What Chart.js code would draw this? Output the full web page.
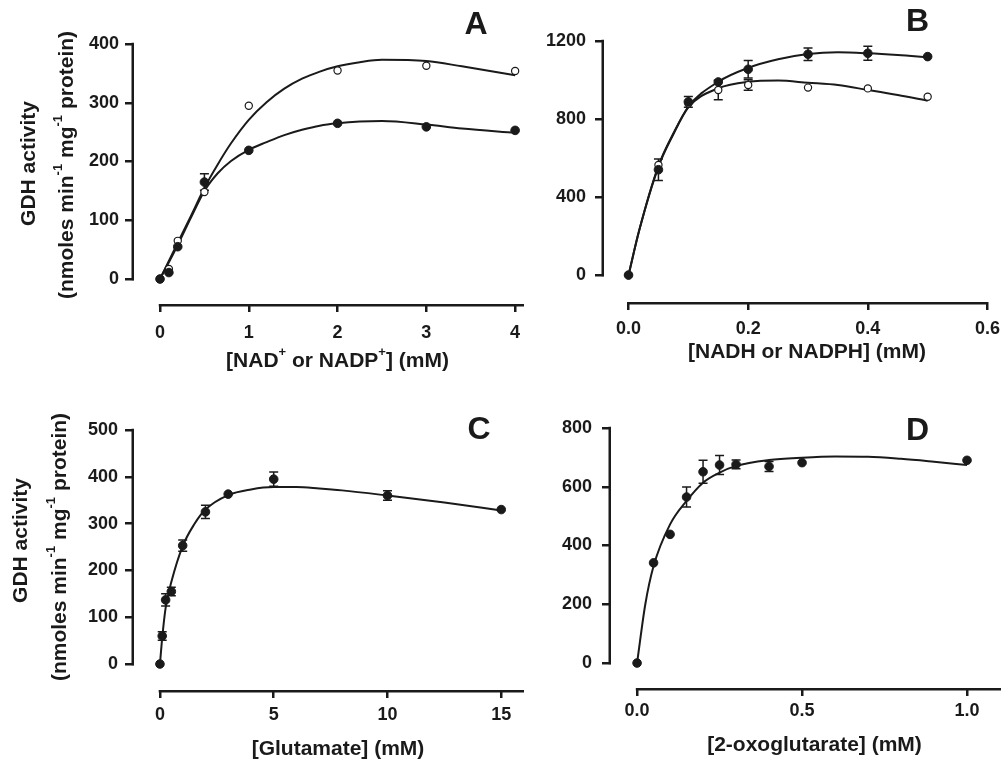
<!DOCTYPE html>
<html>
<head>
<meta charset="utf-8">
<script src="https://cdn.jsdelivr.net/npm/chart.js@4/dist/chart.umd.min.js"></script>
<style>
  body { margin: 0; background: #fff; }
  #wrap { position: relative; width: 1008px; height: 762px; }
  #wrap canvas { position: absolute; left: 0; top: 0; }
</style>
</head>
<body>
<div id="wrap">
  <canvas id="panelA" width="1008" height="762"></canvas>
  <canvas id="panelB" width="1008" height="762"></canvas>
  <canvas id="panelC" width="1008" height="762"></canvas>
  <canvas id="panelD" width="1008" height="762"></canvas>
</div>
<script>
// A: oxidised cofactor (filled / open symbols)
const aConc = [0, 0.1, 0.2, 0.5, 1, 2, 3, 4];
const aClosed = [0, 11, 55, 165, 219, 265, 259, 253];
const aClosedErr = [0, 0, 0, 14, 0, 0, 0, 0];
const aOpen = [0, 17, 65, 148, 295, 355, 363, 354];
const aOpenErr = [0, 0, 0, 0, 0, 0, 0, 0];
const aFitX = [0, 0.2, 0.35, 0.5, 0.65, 0.8, 1, 1.2, 1.4, 1.6, 1.8, 2, 2.25, 2.5, 3, 3.4, 4];
const aClosedFit = [0, 58, 105, 150, 180, 201, 220, 233, 245, 254, 261, 265, 268, 269, 263, 256, 249];
const aOpenFit = [0, 62, 108, 155, 195, 231, 271, 301, 324, 341, 353, 362, 369, 373, 371, 362, 347];
const aXTicks = [0, 1, 2, 3, 4];
const aYTicks = [0, 100, 200, 300, 400];

// B: reduced cofactor
const bConc = [0, 0.05, 0.1, 0.15, 0.2, 0.3, 0.4, 0.5];
const bClosed = [0, 540, 888, 990, 1055, 1132, 1137, 1120];
const bClosedErr = [0, 55, 28, 0, 45, 32, 36, 0];
const bOpen = [0, 564, 880, 949, 974, 961, 957, 914];
const bOpenErr = [0, 0, 0, 50, 27, 0, 0, 0];
const bFitX = [0, 0.018, 0.05, 0.075, 0.1, 0.15, 0.2, 0.25, 0.3, 0.35, 0.4, 0.45, 0.5];
const bClosedFit = [0, 231, 560, 727, 863, 991, 1062, 1106, 1133, 1142, 1137, 1128, 1116];
const bOpenFit = [0, 231, 555, 722, 860, 958, 991, 997, 986, 974, 949, 923, 894];
const bXTicks = [0, 0.2, 0.4, 0.6];
const bYTicks = [0, 400, 800, 1200];

// C: glutamate
const cConc = [0, 0.1, 0.25, 0.5, 1, 2, 3, 5, 10, 15];
const cRate = [0, 60, 137, 155, 253, 325, 363, 395, 360, 330];
const cErr = [0, 9, 13, 9, 12, 14, 0, 15, 10, 0];
const cFitX = [0, 0.1, 0.25, 0.5, 1, 1.5, 2, 3, 4, 5, 6, 7, 8, 10, 12.5, 15];
const cFit = [0, 56, 120, 175, 252, 298, 330, 361, 373, 378, 378, 375, 371, 360, 345, 328];
const cXTicks = [0, 5, 10, 15];
const cYTicks = [0, 100, 200, 300, 400, 500];

// D: 2-oxoglutarate
const dConc = [0, 0.05, 0.1, 0.15, 0.2, 0.25, 0.3, 0.4, 0.5, 1.0];
const dRate = [0, 341, 438, 565, 651, 674, 676, 669, 682, 690];
const dErr = [0, 0, 0, 34, 39, 32, 15, 17, 0, 0];
const dFitX = [0, 0.025, 0.05, 0.1, 0.15, 0.2, 0.25, 0.3, 0.4, 0.5, 0.6, 0.7, 0.8, 0.9, 1.0];
const dFit = [0, 200, 330, 472, 552, 614, 648, 671, 691, 699, 703, 702, 695, 685, 674];
const dXTicks = [0, 0.5, 1.0];
const dYTicks = [0, 200, 400, 600, 800];

// axis titles as [text, isSuperscript] runs
const yTitleTop = [['GDH activity', 0]];
const yTitleBottom = [['(nmoles min', 0], ['-1', 1], [' mg', 0], ['-1', 1], [' protein)', 0]];
const aXTitle = [['[NAD', 0], ['+', 1], [' or NADP', 0], ['+', 1], ['] (mM)', 0]];
const bXTitle = [['[NADH or NADPH] (mM)', 0]];
const cXTitle = [['[Glutamate] (mM)', 0]];
const dXTitle = [['[2-oxoglutarate] (mM)', 0]];

const ink = '#1a1a1a';
const family = "'Liberation Sans', Arial, Helvetica, sans-serif";
Chart.defaults.font.family = family;
Chart.defaults.font.weight = 'bold';
Chart.defaults.color = ink;

function drawRuns(ctx, runs, size) {
  const fonts = runs.map(r => 'bold ' + (r[1] ? Math.round(size * 0.64) : size) + 'px ' + family);
  const widths = runs.map((r, i) => { ctx.font = fonts[i]; return ctx.measureText(r[0]).width; });
  let cx = -widths.reduce((a, b) => a + b, 0) / 2;
  runs.forEach((r, i) => {
    ctx.font = fonts[i];
    ctx.fillText(r[0], cx, r[1] ? -size * 0.4 : 0);
    cx += widths[i];
  });
}

// detached axis lines, error bars, axis titles and the panel letter
const prismAxes = {
  id: 'prismAxes',
  beforeDatasetsDraw(chart) {
    const { ctx, chartArea } = chart;
    const x = chart.scales.x, y = chart.scales.y;
    ctx.save();
    ctx.strokeStyle = ink;
    ctx.lineWidth = 2.5;
    ctx.beginPath();
    const yTop = y.getPixelForValue(y.ticks[y.ticks.length - 1].value);
    const yZero = y.getPixelForValue(y.ticks[0].value);
    ctx.moveTo(chartArea.left - 1.25, yTop - 1.25);
    ctx.lineTo(chartArea.left - 1.25, yZero + 1.25);
    ctx.moveTo(x.getPixelForValue(x.ticks[0].value) - 1.25, chartArea.bottom + 1.25);
    ctx.lineTo(chartArea.right, chartArea.bottom + 1.25);
    ctx.stroke();

    ctx.lineWidth = 1.5;
    chart.data.datasets.forEach(ds => {
      if (!ds.errors) return;
      ds.data.forEach((p, i) => {
        const e = ds.errors[i];
        if (!e) return;
        const px = x.getPixelForValue(p.x);
        const hi = y.getPixelForValue(p.y + e);
        const lo = y.getPixelForValue(p.y - e);
        ctx.beginPath();
        ctx.moveTo(px, hi);
        ctx.lineTo(px, lo);
        ctx.moveTo(px - 4.5, hi);
        ctx.lineTo(px + 4.5, hi);
        ctx.moveTo(px - 4.5, lo);
        ctx.lineTo(px + 4.5, lo);
        ctx.stroke();
      });
    });
    ctx.restore();
  },
  afterDraw(chart, args, opts) {
    const ctx = chart.ctx;
    ctx.save();
    ctx.fillStyle = ink;
    ctx.textAlign = 'left';
    ctx.textBaseline = 'middle';

    ctx.save();
    ctx.translate(opts.xTitleAt[0], opts.xTitleAt[1]);
    drawRuns(ctx, opts.xTitle, 21);
    ctx.restore();

    if (opts.yTitleAt) {
      [yTitleTop, yTitleBottom].forEach((runs, i) => {
        ctx.save();
        ctx.translate(opts.yTitleAt[i][0], opts.yTitleAt[i][1]);
        ctx.rotate(-Math.PI / 2);
        drawRuns(ctx, runs, 21);
        ctx.restore();
      });
    }

    ctx.font = 'bold 32px ' + family;
    ctx.textAlign = 'center';
    ctx.fillText(opts.letter, opts.letterAt[0], opts.letterAt[1]);
    ctx.restore();
  }
};

function dots(xs, ys, errs, filled) {
  return {
    data: xs.map((x, i) => ({ x: x, y: ys[i] })),
    errors: errs,
    pointRadius: filled ? 4.3 : 3.6,
    pointBackgroundColor: filled ? ink : '#fff',
    pointBorderColor: ink,
    pointBorderWidth: filled ? 1 : 1.2,
    pointHoverRadius: 0
  };
}

function fit(xs, ys) {
  return {
    data: xs.map((x, i) => ({ x: x, y: ys[i] })),
    showLine: true,
    pointRadius: 0,
    pointHoverRadius: 0,
    borderColor: ink,
    borderWidth: 2,
    cubicInterpolationMode: 'monotone'
  };
}

function makePanel(id, p) {
  return new Chart(document.getElementById(id), {
    type: 'scatter',
    data: { datasets: p.datasets },
    options: {
      responsive: false,
      animation: false,
      events: [],
      layout: { padding: p.padding },
      plugins: {
        legend: { display: false },
        tooltip: { enabled: false },
        prismAxes: {
          letter: p.letter, letterAt: p.letterAt,
          xTitle: p.xTitle, xTitleAt: p.xTitleAt, yTitleAt: p.yTitleAt
        }
      },
      scales: {
        x: {
          type: 'linear',
          min: p.xRange[0],
          max: p.xRange[1],
          afterFit: s => { s.height = p.xHeight; },
          afterBuildTicks: s => { s.ticks = p.xTicks.map(v => ({ value: v })); },
          border: { display: false },
          grid: { drawOnChartArea: false, color: ink, lineWidth: 2.5, tickLength: 8 },
          ticks: { font: { size: 18 }, padding: p.xTickPad, autoSkip: false, maxRotation: 0, callback: p.xFormat }
        },
        y: {
          type: 'linear',
          min: p.yRange[0],
          max: p.yRange[1],
          afterFit: s => { s.width = p.yWidth; },
          afterBuildTicks: s => { s.ticks = p.yTicks.map(v => ({ value: v })); },
          border: { display: false },
          grid: { drawOnChartArea: false, color: ink, lineWidth: 2.5, tickLength: 9 },
          ticks: { font: { size: 18 }, padding: p.yTickPad, autoSkip: false, callback: v => String(v) }
        }
      }
    },
    plugins: [prismAxes]
  });
}

const oneDecimal = v => v.toFixed(1);
const plain = v => String(v);

makePanel('panelA', {
  datasets: [
    dots(aConc, aClosed, aClosedErr, true),
    dots(aConc, aOpen, aOpenErr, false),
    fit(aFitX, aClosedFit),
    fit(aFitX, aOpenFit)
  ],
  padding: { left: 0, top: 44, right: 484, bottom: 381 },
  xRange: [-0.293, 4.1], yRange: [-42.5, 400],
  xTicks: aXTicks, yTicks: aYTicks, xFormat: plain,
  xHeight: 77, yWidth: 134,
  xTickPad: 10, yTickPad: 6,
  xTitle: aXTitle, xTitleAt: [337.5, 361],
  yTitleAt: [[29.5, 163.5], [67, 165]],
  letter: 'A', letterAt: [476, 25]
});

makePanel('panelB', {
  datasets: [
    dots(bConc, bClosed, bClosedErr, true),
    dots(bConc, bOpen, bOpenErr, false),
    fit(bFitX, bClosedFit),
    fit(bFitX, bOpenFit)
  ],
  padding: { left: 530, top: 41, right: 14, bottom: 381 },
  xRange: [-0.041, 0.6], yRange: [-138, 1200],
  xTicks: bXTicks, yTicks: bYTicks, xFormat: oneDecimal,
  xHeight: 79, yWidth: 74,
  xTickPad: 8, yTickPad: 9,
  xTitle: bXTitle, xTitleAt: [807, 352.5],
  letter: 'B', letterAt: [917.5, 22]
});

makePanel('panelC', {
  datasets: [
    dots(cConc, cRate, cErr, true),
    fit(cFitX, cFit)
  ],
  padding: { left: 0, top: 430, right: 484, bottom: 0 },
  xRange: [-1.14, 16], yRange: [-55.5, 500],
  xTicks: cXTicks, yTicks: cYTicks, xFormat: plain,
  xHeight: 72, yWidth: 134,
  xTickPad: 6, yTickPad: 7,
  xTitle: cXTitle, xTitleAt: [338, 749.5],
  yTitleAt: [[21, 540.5], [60, 547]],
  letter: 'C', letterAt: [479, 430]
});

makePanel('panelD', {
  datasets: [
    dots(dConc, dRate, dErr, true),
    fit(dFitX, dFit)
  ],
  padding: { left: 530, top: 428, right: 7, bottom: 0 },
  xRange: [-0.079, 1.103], yRange: [-85, 800],
  xTicks: dXTicks, yTicks: dYTicks, xFormat: oneDecimal,
  xHeight: 74, yWidth: 81,
  xTickPad: 4, yTickPad: 10,
  xTitle: dXTitle, xTitleAt: [814.5, 745.5],
  letter: 'D', letterAt: [917.5, 431]
});
</script>
</body>
</html>
